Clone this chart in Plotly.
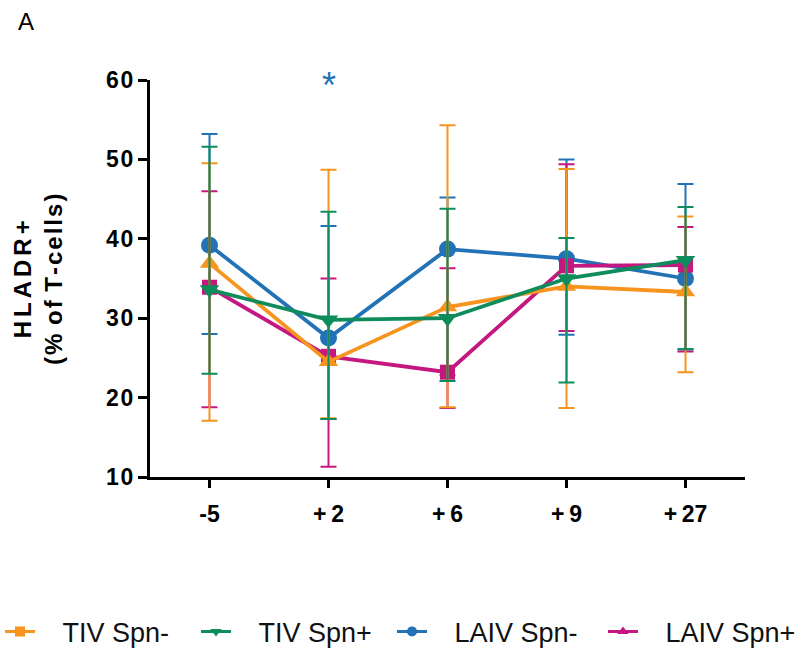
import plotly.graph_objects as go

days = ["-5", "+2", "+6", "+9", "+27"]
day_labels = ["-5", "+\u20092", "+\u20096", "+\u20099", "+\u200927"]
y_ticks = [10, 20, 30, 40, 50, 60]
y_tick_labels = ["1\u200a0", "2\u200a0", "3\u200a0", "4\u200a0", "5\u200a0", "6\u200a0"]

# mean, upper error end, lower error end (% of T-cells)
laiv_pos_mean = [33.9, 25.2, 23.2, 36.6, 36.7]
laiv_pos_hi = [46.0, 35.0, 36.3, 49.4, 41.5]
laiv_pos_lo = [18.8, 11.3, 18.7, 28.4, 25.8]

laiv_neg_mean = [39.2, 27.5, 38.7, 37.5, 35.0]
laiv_neg_hi = [53.2, 41.6, 45.2, 50.0, 46.9]
laiv_neg_lo = [28.0, 17.3, 22.8, 27.9, 26.1]

tiv_neg_mean = [36.9, 24.5, 31.4, 34.0, 33.3]
tiv_neg_hi = [49.5, 48.7, 54.3, 48.8, 42.8]
tiv_neg_lo = [17.1, 17.4, 18.8, 18.7, 23.2]

tiv_pos_mean = [33.6, 29.8, 30.0, 35.0, 37.3]
tiv_pos_hi = [51.6, 43.4, 43.8, 40.1, 44.0]
tiv_pos_lo = [23.0, 17.3, 22.1, 21.9, 26.1]

ORANGE = "#F7941D"
GREEN = "#0E8C5C"
BLUE = "#2172B6"
MAGENTA = "#C4177F"

series = [
    ("LAIV Spn-", laiv_neg_mean, laiv_neg_hi, laiv_neg_lo, BLUE, "circle", 17),
    ("LAIV Spn+", laiv_pos_mean, laiv_pos_hi, laiv_pos_lo, MAGENTA, "square", 15),
    ("TIV Spn-", tiv_neg_mean, tiv_neg_hi, tiv_neg_lo, ORANGE, "triangle-up", 17),
    ("TIV Spn+", tiv_pos_mean, tiv_pos_hi, tiv_pos_lo, GREEN, "triangle-down", 17),
]

fig = go.Figure()
for name, m, hi, lo, col, sym, sz in series:
    fig.add_trace(go.Scatter(
        x=days, y=m, mode="lines+markers", name=name, showlegend=False,
        line=dict(color=col, width=3.8),
        marker=dict(symbol=sym, size=sz, color=col),
        error_y=dict(type="data", symmetric=False,
                     array=[h - v for h, v in zip(hi, m)],
                     arrayminus=[v - l for v, l in zip(m, lo)],
                     color=col, thickness=2, width=8),
    ))

# legend entries (as drawn in the original legend)
legend_items = [
    ("TIV Spn-", ORANGE, "square", "legend"),
    ("TIV Spn+", GREEN, "triangle-down", "legend"),
    ("LAIV Spn-", BLUE, "circle", "legend"),
    ("LAIV Spn+", MAGENTA, "triangle-up", "legend2"),
]
PAD = "\u00a0" * 3
for name, col, sym, lg in legend_items:
    fig.add_trace(go.Scatter(
        x=[None], y=[None], mode="lines+markers", name=PAD + name, legend=lg,
        line=dict(color=col, width=3), marker=dict(symbol=sym, size=10, color=col),
    ))

fig.add_annotation(x=days.index("+2"), y=60, xref="x", yref="y", text="*", showarrow=False,
                   font=dict(size=36, color=BLUE, family="Liberation Sans"),
                   yanchor="middle", yshift=-5)
fig.add_annotation(x=(16 - 150) / 595, y=(477 - 6) / 397, xref="paper", yref="paper",
                   text="A", showarrow=False, xanchor="left", yanchor="top",
                   font=dict(size=24, color="black", family="Liberation Sans"))

S1 = "\u2006"
S2 = "\u200a"
W = "\u00a0\u200a"
title_l1 = S1.join(list("HLADR+"))
title_l2 = S2.join(list("(%")) + W + S2.join(list("of")) + W + S2.join(list("T-cells)"))
fig.add_annotation(x=(38 - 150) / 595, y=(477 - 280) / 397, xref="paper", yref="paper",
                   text=title_l1 + "<br>" + title_l2, showarrow=False, textangle=-90,
                   xanchor="center", yanchor="middle",
                   font=dict(size=24, color="black", family="Liberation Sans", weight="bold"))

legend_font = dict(size=27, family="Liberation Sans", color="#111111")
fig.update_layout(
    width=801, height=648,
    margin=dict(l=150, r=56, t=80, b=171, autoexpand=False),
    plot_bgcolor="white", paper_bgcolor="white",
    font=dict(family="Liberation Sans", color="black"),
    legend=dict(orientation="h", x=-150 / 595, xanchor="left", y=-0.39, yanchor="middle",
                font=legend_font, entrywidth=151, entrywidthmode="pixels",
                bgcolor="rgba(0,0,0,0)"),
    legend2=dict(orientation="h", x=(603 - 150) / 595, xanchor="left", y=-0.39, yanchor="middle",
                 font=legend_font, bgcolor="rgba(0,0,0,0)"),
    xaxis=dict(
        type="category", range=[-0.5, 4.5],
        tickvals=days, ticktext=day_labels,
        showline=True, linecolor="black", linewidth=3,
        ticks="outside", ticklen=8, tickwidth=3, tickcolor="black",
        tickfont=dict(size=23, family="Liberation Sans", weight="bold"),
        ticklabelstandoff=6,
        showgrid=False, zeroline=False, automargin=False,
    ),
    yaxis=dict(
        range=[10, 60], tickvals=y_ticks, ticktext=y_tick_labels,
        showline=True, linecolor="black", linewidth=3,
        ticks="outside", ticklen=9, tickwidth=3, tickcolor="black",
        tickfont=dict(size=23, family="Liberation Sans", weight="bold"),
        showgrid=False, zeroline=False, automargin=False,
    ),
)

fig.write_html("out.html", config={"displayModeBar": False},
               post_script="document.body.style.margin='0px';")
